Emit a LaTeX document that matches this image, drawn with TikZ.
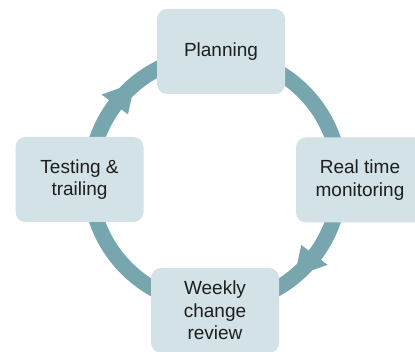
\documentclass[tikz,border=0pt]{standalone}
\usepackage{fontspec}
\setmainfont{Liberation Sans}
\usetikzlibrary{calc}
\definecolor{ringc}{HTML}{78A6AF}
\definecolor{boxc}{HTML}{D2E2E6}
\definecolor{txtc}{HTML}{1E1E1E}
\tikzset{
  stagebox/.style={draw=none, fill=boxc, rounded corners=10pt, minimum width=128pt,
    minimum height=85pt, inner sep=0pt, align=center, text=txtc,
    font=\fontsize{19}{22.5}\selectfont},
  ringline/.style={draw=ringc, line width=15.5pt},
  headfill/.style={fill=ringc, draw=none}
}
\begin{document}
\begin{tikzpicture}[x=1pt,y=1pt]
\useasboundingbox (0,0) rectangle (415,352);
\clip (0,0) rectangle (415,352);
\coordinate (c) at (215,172);
\draw[ringline] (c) circle[radius=125];
% arrowheads (clockwise)
\fill[headfill] ($(c)+(143:109)$) -- ($(c)+(143:142)$) -- ($(c)+(129.5:126)$) -- cycle;
\fill[headfill] ($(c)+(-37:108)$) -- ($(c)+(-37:141)$) -- ($(c)+(-50.5:125)$) -- cycle;
\node[stagebox] (plan) at (221,300.5) {Planning};
\node[stagebox] (real) at (360,172) {Real time\\monitoring};
\node[stagebox] (test) at (79.5,172.5) {Testing \&\\trailing};
\node[stagebox] (week) at (215,41.5) {Weekly\\change\\review};
\end{tikzpicture}
\end{document}
